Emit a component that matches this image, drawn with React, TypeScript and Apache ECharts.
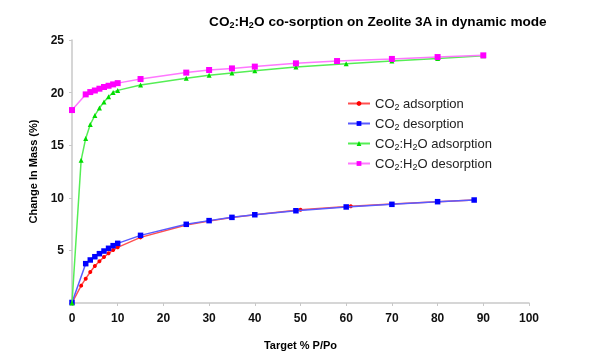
import React, { useEffect, useRef } from "react";
import * as echarts from "echarts";

const co2AdsX = [0, 2, 3, 4, 5, 6, 7, 8, 9, 10, 15, 25, 30, 35, 40, 50, 61, 70, 80, 88];
const co2AdsY = [0, 1.65, 2.31, 2.95, 3.52, 3.96, 4.37, 4.72, 5.04, 5.29, 6.24, 7.41, 7.8, 8.12, 8.38, 8.87, 9.2, 9.4, 9.63, 9.78];

const co2DesX = [0, 3, 4, 5, 6, 7, 8, 9, 10, 15, 25, 30, 35, 40, 49, 60, 70, 80, 88];
const co2DesY = [0.05, 3.74, 4.09, 4.4, 4.69, 4.94, 5.2, 5.45, 5.67, 6.43, 7.48, 7.83, 8.14, 8.39, 8.77, 9.13, 9.38, 9.63, 9.79];

const mixAdsX = [0, 2, 3, 4, 5, 6, 7, 8, 9, 10, 15, 25, 30, 35, 40, 49, 60, 70, 80, 90];
const mixAdsY = [0, 13.58, 15.64, 16.97, 17.83, 18.53, 19.1, 19.6, 20.02, 20.21, 20.72, 21.36, 21.64, 21.86, 22.08, 22.43, 22.75, 23.0, 23.23, 23.5];

const mixDesX = [0, 3, 4, 5, 6, 7, 8, 9, 10, 15, 25, 30, 35, 40, 49, 58, 70, 80, 90];
const mixDesY = [18.34, 19.83, 20.05, 20.2, 20.37, 20.53, 20.65, 20.78, 20.9, 21.29, 21.9, 22.15, 22.3, 22.47, 22.78, 23.0, 23.2, 23.38, 23.54];

const seriesNames = ["CO2 adsorption", "CO2 desorption", "CO2:H2O adsorption", "CO2:H2O desorption"];
const legendLabels = [
  "CO{s|2} adsorption",
  "CO{s|2} desorption",
  "CO{s|2}:H{s|2}O adsorption",
  "CO{s|2}:H{s|2}O desorption",
];

const xTicks = { min: 0, max: 100, interval: 10 };
const yTicks = { min: 0, max: 25, interval: 5 };

const zip = (xs: number[], ys: number[]) => xs.map((x, i) => [x, ys[i]]);

export default function App() {
  const ref = useRef<HTMLDivElement>(null);
  useEffect(() => {
    if (!ref.current) return;
    const chart = echarts.init(ref.current, null, { renderer: "svg" });
    const font = "Liberation Sans, Arial, sans-serif";
    const mk = (
      i: number,
      xs: number[],
      ys: number[],
      lineColor: string,
      markColor: string,
      symbol: string,
      size: number
    ) => ({
      name: seriesNames[i],
      type: "line",
      data: zip(xs, ys),
      symbol,
      symbolSize: size,
      showAllSymbol: true,
      lineStyle: { color: lineColor, width: 1.5 },
      itemStyle: { color: markColor },
      z: 2 + i,
    });
    chart.setOption({
      animation: false,
      title: {
        text: "CO{s|2}:H{s|2}O co-sorption on Zeolite 3A in dynamic mode",
        left: 373,
        textAlign: "center",
        top: 8,
        textStyle: {
          fontFamily: font,
          fontSize: 13.6,
          fontWeight: "bold",
          color: "#000",
          rich: {
            s: { fontFamily: font, fontSize: 9, fontWeight: "bold", verticalAlign: "bottom", padding: [7, 0, 0, 0], color: "#000" },
          },
        },
      },
      legend: {
        orient: "vertical",
        left: 342,
        top: 92,
        itemGap: 6,
        itemWidth: 22,
        itemHeight: 6,
        data: seriesNames,
        formatter: (name: string) => legendLabels[seriesNames.indexOf(name)],
        textStyle: {
          fontFamily: font,
          fontSize: 13,
          color: "#222",
          rich: {
            s: { fontFamily: font, fontSize: 9, color: "#222", verticalAlign: "bottom", padding: [6, 0, 0, 0] },
          },
        },
      },
      grid: { left: 72, right: 80, top: 40, bottom: 58 },
      xAxis: {
        type: "value",
        ...xTicks,
        name: "Target % P/Po",
        nameLocation: "middle",
        nameGap: 36,
        nameTextStyle: { fontFamily: font, fontSize: 11, fontWeight: "bold", color: "#000" },
        axisLine: { show: true, lineStyle: { color: "#c8c8c8", width: 1.5 } },
        axisTick: { show: true, length: 3, lineStyle: { color: "#c8c8c8" } },
        axisLabel: { fontFamily: font, fontSize: 12, fontWeight: "bold", color: "#111", margin: 9 },
        splitLine: { show: false },
      },
      yAxis: {
        type: "value",
        ...yTicks,
        name: "Change In Mass (%)",
        nameLocation: "middle",
        nameGap: 34,
        nameTextStyle: { fontFamily: font, fontSize: 11, fontWeight: "bold", color: "#000" },
        axisLine: { show: true, lineStyle: { color: "#c8c8c8", width: 1.5 } },
        axisTick: { show: true, length: 3, lineStyle: { color: "#c8c8c8" } },
        axisLabel: {
          fontFamily: font,
          fontSize: 12,
          fontWeight: "bold",
          color: "#111",
          margin: 8,
          formatter: (v: number) => (v === 0 ? "" : String(v)),
        },
        splitLine: { show: false },
      },
      series: [
        mk(0, co2AdsX, co2AdsY, "#ff5050", "#ff0000", "circle", 4),
        mk(1, co2DesX, co2DesY, "#5a5aff", "#0000ff", "rect", 5.5),
        mk(2, mixAdsX, mixAdsY, "#55ee55", "#00dd00", "triangle", 5),
        mk(3, mixDesX, mixDesY, "#ff77ff", "#ff00ff", "rect", 6),
      ],
    });
    return () => chart.dispose();
  }, []);
  return <div ref={ref} style={{ position: "fixed", left: 0, top: 0, width: 609, height: 361 }} />;
}
